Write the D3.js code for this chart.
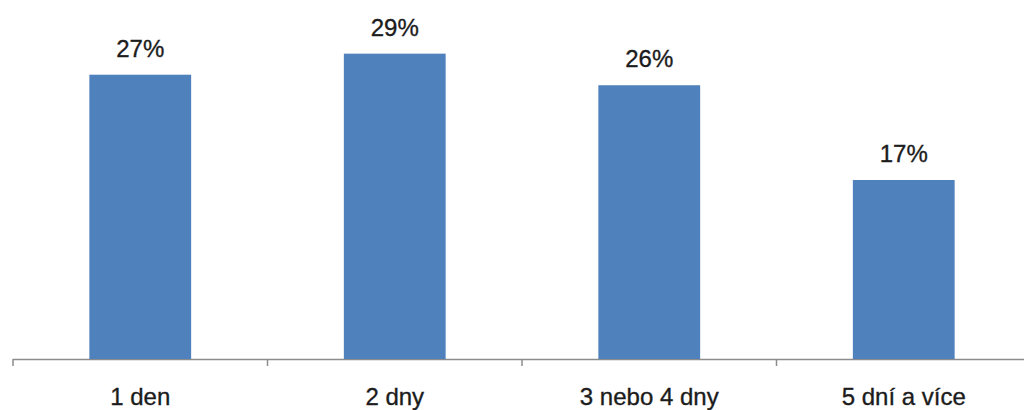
<!DOCTYPE html>
<html>
<head>
<meta charset="utf-8">
<script src="https://cdn.jsdelivr.net/npm/d3@7"></script>
<style>
  html, body { margin: 0; padding: 0; background: #fff; }
  svg { display: block; }
</style>
</head>
<body>
<svg id="chart" width="1024" height="410"></svg>
<script>
// Share of respondents by number of days
const categories = ["1 den", "2 dny", "3 nebo 4 dny", "5 dní a více"];
const values = [27, 29, 26, 17];
const valueLabels = ["27%", "29%", "26%", "17%"];

const svg = d3.select("#chart");
const font = "'Liberation Sans', Arial, sans-serif";
const textColor = "#1c1c1c";

const x = d3.scaleBand()
  .domain(categories)
  .range([13, 13 + 254.5 * 4])
  .paddingInner(0.6)
  .paddingOuter(0.3);

const y = d3.scaleLinear()
  .domain([0, 34])
  .range([359, 1]);

// Category axis along the baseline
const axis = d3.axisBottom(x)
  .tickSize(0)
  .tickPadding(0)
  .tickFormat("");
const axisG = svg.append("g")
  .attr("transform", `translate(0,${y(0)})`)
  .call(axis);
axisG.select(".domain").remove();
axisG.append("line")
  .attr("x1", x.range()[0]).attr("x2", x.range()[1])
  .attr("y1", 0.5).attr("y2", 0.5)
  .attr("stroke", "#8c8c8c").attr("stroke-width", 1.5);

// Tick marks between categories
const step = x.step();
const boundaries = d3.range(categories.length + 1).map(i => x.range()[0] + i * step);
axisG.selectAll("line.tick-mark")
  .data(boundaries)
  .join("line")
  .attr("class", "tick-mark")
  .attr("x1", d => d).attr("x2", d => d)
  .attr("y1", 0).attr("y2", 7)
  .attr("stroke", "#8c8c8c").attr("stroke-width", 1.5);

// Category labels
axisG.selectAll("text.cat")
  .data(categories)
  .join("text")
  .attr("class", "cat")
  .attr("x", d => x(d) + x.bandwidth() / 2)
  .attr("y", 46)
  .attr("text-anchor", "middle")
  .attr("font-family", font)
  .attr("font-size", 24)
  .attr("fill", textColor)
  .attr("stroke", textColor)
  .attr("stroke-width", 0.35)
  .text(d => d);

// Bars
svg.selectAll("rect.bar")
  .data(values)
  .join("rect")
  .attr("class", "bar")
  .attr("x", (d, i) => x(categories[i]))
  .attr("width", x.bandwidth())
  .attr("y", d => y(d))
  .attr("height", d => y(0) - y(d))
  .attr("fill", "#4f81bd");

// Value labels above bars
svg.selectAll("text.val")
  .data(values)
  .join("text")
  .attr("class", "val")
  .attr("x", (d, i) => x(categories[i]) + x.bandwidth() / 2)
  .attr("y", d => y(d) - 18)
  .attr("text-anchor", "middle")
  .attr("font-family", font)
  .attr("font-size", 24)
  .attr("fill", textColor)
  .attr("stroke", textColor)
  .attr("stroke-width", 0.35)
  .text((d, i) => valueLabels[i]);
</script>
</body>
</html>
